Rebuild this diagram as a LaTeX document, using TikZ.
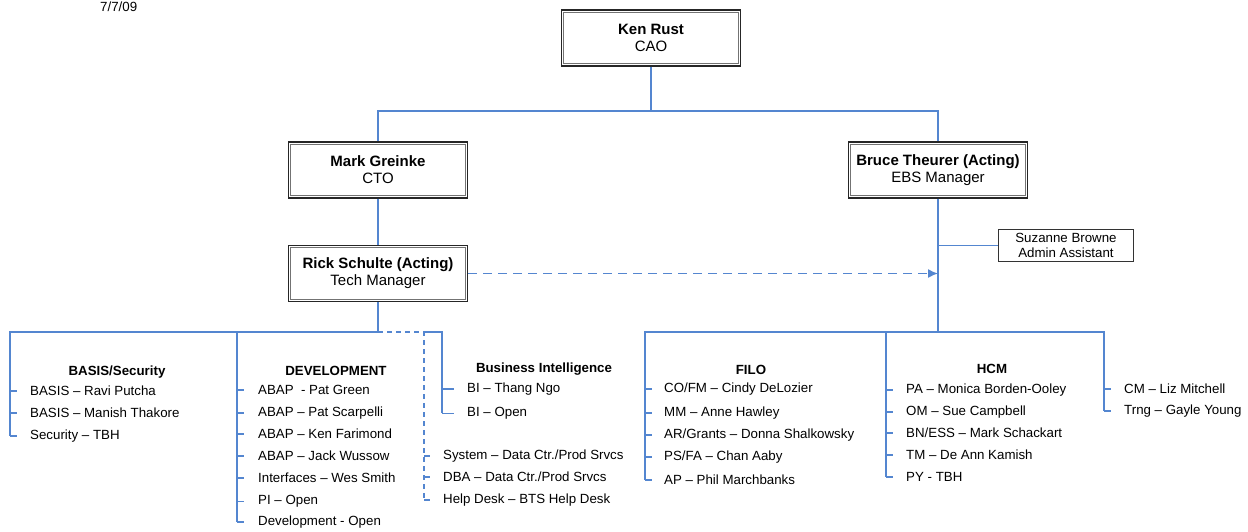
\documentclass[tikz,border=0pt]{standalone}
\usepackage{fontspec}
\setmainfont{Liberation Sans}
\usetikzlibrary{arrows.meta}
\definecolor{orgblue}{RGB}{84,134,208}

\tikzstyle{manager}=[draw=black!85,line width=1.3pt,
  minimum width=179pt,minimum height=56pt,inner sep=0pt,align=center,
  font=\fontsize{15}{17}\selectfont]
\tikzstyle{inner frame}=[draw=black!55,line width=0.8pt]
\tikzstyle{assistant}=[draw=black!80,line width=0.8pt,minimum width=135pt,minimum height=32pt,
  inner sep=0pt,align=center,font=\fontsize{13.3}{15}\selectfont]
\tikzstyle{heading}=[inner sep=0pt,font=\bfseries\fontsize{13.3}{15}\selectfont]
\tikzstyle{member}=[anchor=mid west,inner sep=0pt,font=\fontsize{13.3}{15}\selectfont]
\tikzstyle{link} = [draw,orgblue,line width=1.5pt]
\tikzstyle{main link} = [draw,orgblue,line width=2pt]
\tikzstyle{dashed link} = [draw,orgblue,line width=1.2pt,dash pattern=on 5pt off 4pt]
\tikzstyle{dotted line} = [draw,orgblue,line width=1.4pt,dash pattern=on 9pt off 6pt,
  -{Latex[length=10pt,width=9pt]}]

\begin{document}
\begin{tikzpicture}[x=1pt,y=-1pt]
\useasboundingbox (0,0) rectangle (1248,531);
\node[member,anchor=base west] (date) at (100,11) {7/7/09};

% managers
\node[manager] (cao) at (651,38) {\textbf{Ken Rust}\\CAO};
\node[manager] (cto) at (378,170) {\textbf{Mark Greinke}\\CTO};
\node[manager] (ebs) at (938,170) {\textbf{Bruce Theurer (Acting)}\\EBS Manager};
\node[manager] (tech) at (378,273.5) {\textbf{Rick Schulte (Acting)}\\Tech Manager};
\node[assistant] (admin) at (1066,245.5) {Suzanne Browne\\Admin Assistant};
\foreach \name in {cao,cto,ebs,tech}{
  \path[inner frame] ([shift={(3pt,-3pt)}]\name.north west) rectangle ([shift={(-3pt,3pt)}]\name.south east);
}

\coordinate (top bar) at (651,111);
\path[link] (cao) -- (top bar) -| (cto);
\path[link] (top bar) -| (ebs);
\path[link] (cto) -- (tech);
\path[link] (ebs.south |- admin) -- (admin);
\path[dotted line] (tech) -- (tech -| ebs);

% branch points
\coordinate (tech bar) at (378,332);
\coordinate (ebs bar) at (938,332);
\foreach \name/\x in {basis/10, dev/237, ops/424, bi/442, filo/645, hcm/886, misc/1104}{
  \coordinate (\name) at (\x,332);
}

% group headings
\foreach \pos/\name/\txt in {{(117,372)/basis title/{BASIS/Security}}, {(336,371)/dev title/DEVELOPMENT},
                              {(544,369)/bi title/Business Intelligence}, {(751,370)/filo title/FILO},
                              {(992,369)/hcm title/HCM}}{
  \node[heading] (\name) at \pos {\txt};
}

% BASIS/Security
\foreach \name/\y/\txt in {b1/393/{BASIS -- Ravi Putcha}, b2/415/{BASIS -- Manish Thakore},
                           b3/437/{Security -- TBH}}{
  \node[member] (\name) at (30,\y) {\txt};
  \path[link] (basis |- \name.west) -- ++(7,0);
}
% DEVELOPMENT
\foreach \name/\y/\txt in {d1/392/{ABAP~ - Pat Green}, d2/414/{ABAP -- Pat Scarpelli},
                           d3/436/{ABAP -- Ken Farimond}, d4/458/{ABAP -- Jack Wussow},
                           d5/480/{Interfaces -- Wes Smith}, d6/502/{PI -- Open},
                           d7/523/{Development - Open}}{
  \node[member] (\name) at (258,\y) {\txt};
  \path[link] (dev |- \name.west) -- ++(7,0);
}
% Business Intelligence
\foreach \name/\y/\txt in {i1/390/{BI -- Thang Ngo}, i2/414/{BI -- Open}}{
  \node[member] (\name) at (467,\y) {\txt};
  \path[link] (bi |- \name.west) -- ++(12,0);
}
% data center / help desk
\foreach \name/\y/\txt in {o1/457/{System -- Data Ctr./Prod Srvcs}, o2/479/{DBA -- Data Ctr./Prod Srvcs},
                           o3/501/{Help Desk -- BTS Help Desk}}{
  \node[member] (\name) at (443,\y) {\txt};
  \path[link] (ops |- \name.west) -- ++(6,0);
}
% FILO
\foreach \name/\y/\txt in {f1/390/{CO/FM -- Cindy DeLozier}, f2/414/{MM -- Anne Hawley},
                           f3/436/{AR/Grants -- Donna Shalkowsky}, f4/458/{PS/FA -- Chan Aaby},
                           f5/482/{AP -- Phil Marchbanks}}{
  \node[member] (\name) at (664,\y) {\txt};
  \path[link] (filo |- \name.west) -- ++(7,0);
}
% HCM
\foreach \name/\y/\txt in {h1/391/{PA -- Monica Borden-Ooley}, h2/413/{OM -- Sue Campbell},
                           h3/435/{BN/ESS -- Mark Schackart}, h4/457/{TM -- De Ann Kamish},
                           h5/479/{PY - TBH}}{
  \node[member] (\name) at (906,\y) {\txt};
  \path[link] (hcm |- \name.west) -- ++(7,0);
}
\foreach \name/\y/\txt in {m1/391/{CM -- Liz Mitchell}, m2/412/{Trng -- Gayle Young}}{
  \node[member] (\name) at (1124,\y) {\txt};
  \path[link] (misc |- \name.west) -- ++(7,0);
}

% tech manager tree
\path[link] (tech) -- (tech bar) -| (basis |- b3.west);
\path[link] (dev) -- (dev |- d7.west);
\path[dashed link] (tech bar) -| (ops |- o3.west);
\path[link] (ops) -| (bi |- i2.west);

% EBS manager tree
\path[main link] (ebs) -- (ebs bar);
\path[link] (filo |- f5.west) |- (ebs bar) -| (misc |- m2.west);
\path[link] (hcm) -- (hcm |- h5.west);
\end{tikzpicture}
\end{document}
